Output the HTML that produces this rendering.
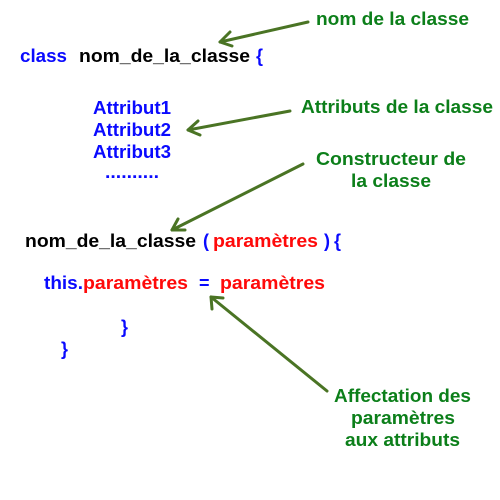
<!DOCTYPE html>
<html><head><meta charset="utf-8"><style>
html,body{margin:0;padding:0;background:#fff;}
svg{display:block;}
text{font-family:"Liberation Sans",Arial,sans-serif;font-weight:bold;font-size:18px;}
.b{fill:#0a0aff}.k{fill:#000}.r{fill:#ff0a0a}.g{fill:#0c7f1a}
</style></head><body>
<svg width="500" height="500" viewBox="0 0 500 500" xmlns="http://www.w3.org/2000/svg">
<g stroke="#4a7424" stroke-width="3" fill="none" stroke-linecap="round" stroke-linejoin="round">
<line x1="308" y1="22" x2="220" y2="42"/><polyline points="230,32 220,42 232,46"/>
<line x1="290" y1="111" x2="188" y2="130"/><polyline points="198,121 188,130 200,135"/>
<line x1="303" y1="164" x2="172" y2="230"/><polyline points="178,219 172,230 185,230"/>
<line x1="327" y1="391" x2="211" y2="297"/><polyline points="212,309 211,297 223,298"/>
</g>
<g lengthAdjust="spacingAndGlyphs">
<text x="316" y="25" class="g" textLength="153" lengthAdjust="spacingAndGlyphs">nom de la classe</text>
<text x="20" y="62" class="b" textLength="47" lengthAdjust="spacingAndGlyphs">class</text>
<text x="79" y="62" class="k" textLength="171" lengthAdjust="spacingAndGlyphs">nom_de_la_classe</text>
<text x="256" y="62" class="b">{</text>
<text x="93" y="114" class="b" textLength="78" lengthAdjust="spacingAndGlyphs">Attribut1</text>
<text x="93" y="136" class="b" textLength="78" lengthAdjust="spacingAndGlyphs">Attribut2</text>
<text x="93" y="158" class="b" textLength="78" lengthAdjust="spacingAndGlyphs">Attribut3</text>
<text x="105" y="178" class="b" textLength="54" lengthAdjust="spacingAndGlyphs">..........</text>
<text x="301" y="113" class="g" textLength="192" lengthAdjust="spacingAndGlyphs">Attributs de la classe</text>
<text x="316" y="165" class="g" textLength="150" lengthAdjust="spacingAndGlyphs">Constructeur de</text>
<text x="351" y="187" class="g" textLength="80" lengthAdjust="spacingAndGlyphs">la classe</text>
<text x="25" y="247" class="k" textLength="171" lengthAdjust="spacingAndGlyphs">nom_de_la_classe</text>
<text x="203" y="247" class="b">(</text>
<text x="213" y="247" class="r" textLength="105" lengthAdjust="spacingAndGlyphs">paramètres</text>
<text x="324" y="247" class="b">)</text>
<text x="334" y="247" class="b">{</text>
<text x="44" y="289" class="b" textLength="39" lengthAdjust="spacingAndGlyphs">this.</text>
<text x="83" y="289" class="r" textLength="105" lengthAdjust="spacingAndGlyphs">paramètres</text>
<text x="199" y="289" class="b">=</text>
<text x="220" y="289" class="r" textLength="105" lengthAdjust="spacingAndGlyphs">paramètres</text>
<text x="121" y="333" class="b">}</text>
<text x="61" y="355" class="b">}</text>
<text x="334" y="402" class="g" textLength="137" lengthAdjust="spacingAndGlyphs">Affectation des</text>
<text x="351" y="424" class="g" textLength="104" lengthAdjust="spacingAndGlyphs">paramètres</text>
<text x="345" y="446" class="g" textLength="115" lengthAdjust="spacingAndGlyphs">aux attributs</text>
</g>
</svg>
</body></html>
